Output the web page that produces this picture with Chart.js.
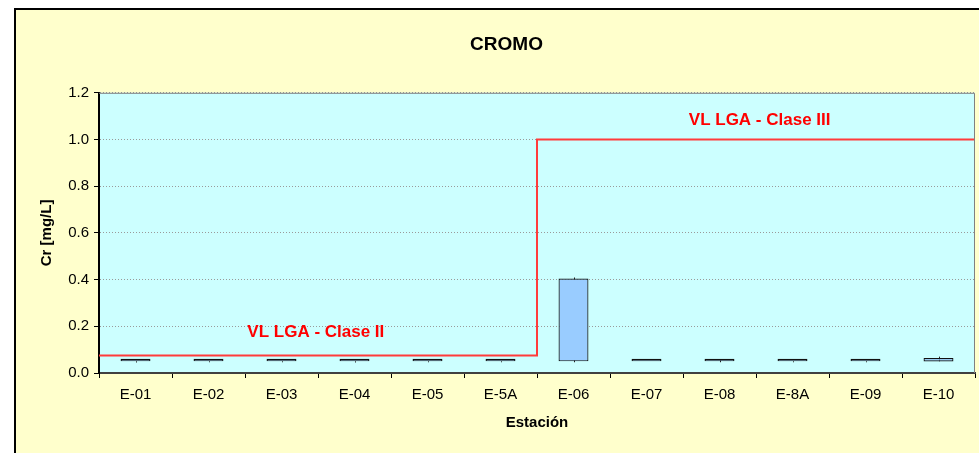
<!DOCTYPE html>
<html>
<head>
<meta charset="utf-8">
<script src="https://cdn.jsdelivr.net/npm/chart.js@4"></script>
<style>
  html, body { margin: 0; padding: 0; background: #fff; }
  #wrap { width: 979px; height: 453px; }
</style>
</head>
<body>
<div id="wrap"><canvas id="chart" width="979" height="453"></canvas></div>
<script>
// stations and Cr results (mg/L)
const stations = ['E-01', 'E-02', 'E-03', 'E-04', 'E-05', 'E-5A', 'E-06', 'E-07', 'E-08', 'E-8A', 'E-09', 'E-10'];
const boxLow = [0.05, 0.05, 0.05, 0.05, 0.05, 0.05, 0.05, 0.05, 0.05, 0.05, 0.05, 0.049];
const boxHigh = [0.05, 0.05, 0.05, 0.05, 0.05, 0.05, 0.405, 0.05, 0.05, 0.05, 0.05, 0.064];
const whiskerLow = [0.045, 0.046, 0.046, 0.045, 0.046, 0.046, 0.046, 0.05, 0.046, 0.046, 0.046, 0.05];
const whiskerHigh = [0.05, 0.05, 0.05, 0.05, 0.05, 0.05, 0.409, 0.05, 0.058, 0.05, 0.05, 0.07];
// LGA limit that applies to each station
const limitLGA = [0.075, 0.075, 0.075, 0.075, 0.075, 0.075, 1.0, 1.0, 1.0, 1.0, 1.0, 1.0];
const yTicks = [0, 0.2, 0.4, 0.6, 0.8, 1.0, 1.2];

const FONT = 'Arial, "Liberation Sans", sans-serif';

// step line along the station edges
const limitLine = [];
limitLGA.forEach((v, i) => {
  limitLine.push({ x: i, y: v });
  limitLine.push({ x: i + 1, y: v });
});

const framePlugin = {
  id: 'frame',
  beforeDraw(chart) {
    const { ctx, chartArea: a, width, height } = chart;
    ctx.save();
    ctx.fillStyle = '#fff';
    ctx.fillRect(0, 0, width, height);
    ctx.fillStyle = '#FFFFCC';
    ctx.fillRect(15, 9, width - 15, height - 9);
    ctx.strokeStyle = '#000';
    ctx.lineWidth = 2;
    ctx.beginPath();
    ctx.moveTo(15, height);
    ctx.lineTo(15, 9);
    ctx.lineTo(width, 9);
    ctx.stroke();
    ctx.fillStyle = '#CCFFFF';
    ctx.fillRect(a.left, a.top, a.right - a.left, a.bottom - a.top);
    ctx.restore();
  },
  beforeDatasetsDraw(chart) {
    // whiskers go under the boxes
    const { ctx } = chart;
    const y = chart.scales.y;
    const bars = chart.getDatasetMeta(1).data;
    ctx.save();
    ctx.strokeStyle = '#222';
    ctx.lineWidth = 1;
    bars.forEach((b, i) => {
      const x = Math.round(b.x) + 0.5;
      ctx.beginPath();
      ctx.moveTo(x, y.getPixelForValue(whiskerLow[i]));
      ctx.lineTo(x, y.getPixelForValue(whiskerHigh[i]));
      ctx.stroke();
    });
    ctx.restore();
  },
  afterDraw(chart) {
    const { ctx, chartArea: a } = chart;
    ctx.save();
    ctx.strokeStyle = '#808080';
    ctx.lineWidth = 1;
    ctx.beginPath();
    ctx.moveTo(a.left, a.top + 0.5);
    ctx.lineTo(a.right - 0.5, a.top + 0.5);
    ctx.lineTo(a.right - 0.5, a.bottom);
    ctx.stroke();

    // limit labels
    const x2 = chart.scales.x2, y = chart.scales.y;
    ctx.fillStyle = '#FF0000';
    ctx.font = 'bold 17px ' + FONT;
    ctx.textAlign = 'center';
    ctx.textBaseline = 'middle';
    ctx.fillText('VL LGA - Clase II', x2.getPixelForValue(2.97), y.getPixelForValue(0.176));
    ctx.fillText('VL LGA - Clase III', x2.getPixelForValue(9.05), y.getPixelForValue(1.084));
    ctx.restore();
  }
};

new Chart(document.getElementById('chart'), {
  data: {
    labels: stations,
    datasets: [
      {
        type: 'line',
        label: 'VL LGA',
        data: limitLine,
        xAxisID: 'x2',
        borderColor: '#FF3B3B',
        borderWidth: 2,
        pointRadius: 0,
        tension: 0,
        order: 0
      },
      {
        type: 'bar',
        label: 'Cr',
        data: boxLow.map((lo, i) => [lo, boxHigh[i]]),
        xAxisID: 'x',
        grouped: false,
        backgroundColor: '#99CCFF',
        borderColor: '#111',
        borderWidth: 1.2,
        borderSkipped: false,
        minBarLength: 2.5,
        barPercentage: 0.41,
        categoryPercentage: 1,
        order: 1
      }
    ]
  },
  options: {
    responsive: false,
    animation: false,
    layout: { padding: { left: 38, right: 4, top: 0, bottom: 0 } },
    plugins: {
      legend: { display: false },
      tooltip: { enabled: false },
      title: {
        display: true,
        text: 'CROMO',
        color: '#000',
        font: { family: FONT, size: 19, weight: 'bold' },
        padding: { top: 33, bottom: 37 }
      }
    },
    scales: {
      x: {
        type: 'category',
        offset: true,
        afterFit(s) { s.height = 80; },
        grid: {
          offset: true,
          drawOnChartArea: false,
          tickLength: 5,
          tickColor: '#000'
        },
        border: { display: true, color: '#404040', width: 2 },
        ticks: {
          color: '#000',
          padding: 8,
          maxRotation: 0,
          font: { family: FONT, size: 15 }
        },
        title: {
          display: true,
          text: 'Estación',
          color: '#000',
          font: { family: FONT, size: 15, weight: 'bold' },
          padding: { top: 21, bottom: 21 }
        }
      },
      x2: {
        type: 'linear',
        display: false,
        min: 0,
        max: stations.length
      },
      y: {
        min: 0,
        max: 1.2,
        afterFit(s) { s.width = 61; },
        afterBuildTicks(s) { s.ticks = yTicks.map(v => ({ value: v })); },
        grid: {
          color: (c) => c.tick && c.tick.value === 0 ? 'rgba(0,0,0,0)' : '#9A9A9A',
          lineWidth: 1,
          tickLength: 5,
          tickColor: '#000',
          tickBorderDash: []
        },
        border: { display: true, color: '#000', width: 2, dash: [1, 2] },
        ticks: {
          color: '#000',
          padding: 5,
          font: { family: FONT, size: 15 },
          callback: (v) => Number(v).toFixed(1)
        },
        title: {
          display: true,
          text: 'Cr [mg/L]',
          color: '#000',
          font: { family: FONT, size: 15, weight: 'bold' },
          padding: { top: 0, bottom: 0 }
        }
      }
    }
  },
  plugins: [framePlugin]
});
</script>
</body>
</html>
